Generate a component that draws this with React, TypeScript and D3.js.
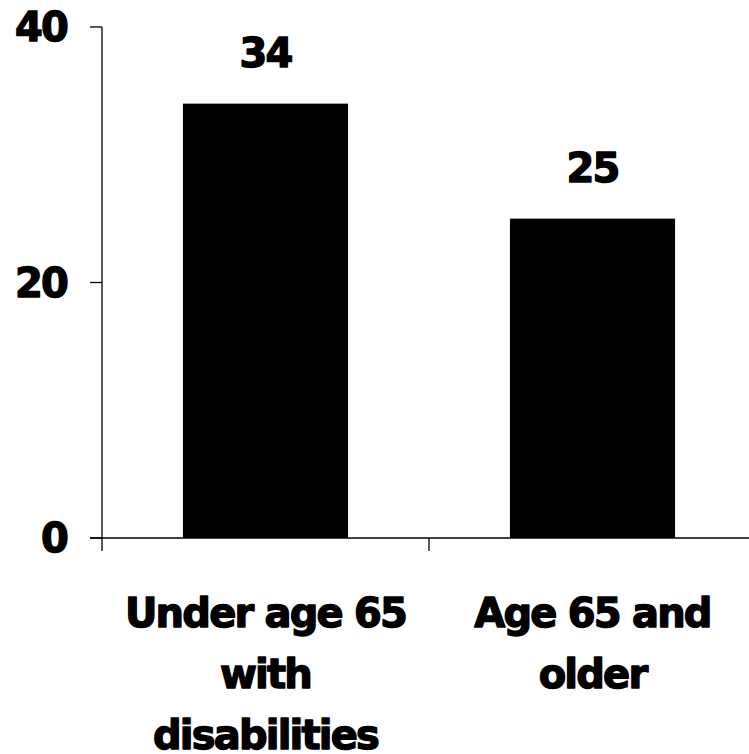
import React from "react";
import * as d3 from "d3";

const categories = ["Under age 65 with disabilities", "Age 65 and older"];
const categoryLines = [
  ["Under age 65", "with", "disabilities"],
  ["Age 65 and", "older"],
];
const values = [34, 25];
const yTicks = [0, 20, 40];

const W = 749;
const H = 754;
const margin = { left: 102, top: 27, bottom: 216 };
const plotRight = 756;

const font = "'DejaVu Sans', 'Liberation Sans', sans-serif";
const textStyle: React.CSSProperties = {
  fontFamily: font,
  fontWeight: 700,
  fontSize: 40,
  letterSpacing: -1.8,
};
const heavy = { fill: "#000", stroke: "#000", strokeWidth: 1.4, strokeLinejoin: "round" as const };

export default function App() {
  const baseY = H - margin.bottom;
  const x = d3.scaleBand<string>().domain(categories).range([margin.left, plotRight]).padding(0);
  const y = d3.scaleLinear().domain([0, 40]).range([baseY, margin.top]);
  const barW = x.bandwidth() * 0.505;
  const edges = [...categories.map((c) => x(c)!), x(categories[categories.length - 1])! + x.bandwidth()];

  return (
    <svg
      width={W}
      height={H}
      style={{ position: "absolute", left: 0, top: 0, background: "#fff" }}
    >
      {/* bars */}
      {categories.map((c, i) => {
        const cx = x(c)! + x.bandwidth() / 2;
        return (
          <rect
            key={c}
            x={cx - barW / 2}
            y={y(values[i])}
            width={barW}
            height={baseY - y(values[i])}
            fill="#000"
          />
        );
      })}

      {/* value labels */}
      {categories.map((c, i) => (
        <text
          key={c + "-v"}
          x={x(c)! + x.bandwidth() / 2}
          y={y(values[i]) - 37}
          textAnchor="middle"
          {...heavy}
          style={textStyle}
        >
          {values[i]}
        </text>
      ))}

      {/* y axis */}
      <line x1={margin.left} x2={margin.left} y1={y(40)} y2={baseY} stroke="#000" strokeWidth={1.3} />
      {yTicks.map((t) => (
        <g key={t}>
          <line x1={margin.left - 12} x2={margin.left} y1={y(t)} y2={y(t)} stroke="#000" strokeWidth={1.3} />
          <text
            x={margin.left - 35}
            y={y(t)}
            dy="0.36em"
            textAnchor="end"
            {...heavy}
            style={textStyle}
          >
            {t}
          </text>
        </g>
      ))}

      {/* x axis */}
      <line x1={margin.left - 12} x2={plotRight} y1={baseY} y2={baseY} stroke="#000" strokeWidth={1.3} />
      {edges.map((e, i) => (
        <line key={i} x1={e} x2={e} y1={baseY} y2={baseY + 13} stroke="#000" strokeWidth={1.3} />
      ))}

      {/* category labels */}
      {categories.map((c, i) => (
        <text key={c + "-l"} textAnchor="middle" {...heavy} style={textStyle}>
          {categoryLines[i].map((line, j) => (
            <tspan key={j} x={x(c)! + x.bandwidth() / 2} y={baseY + 89 + j * 61}>
              {line}
            </tspan>
          ))}
        </text>
      ))}
    </svg>
  );
}
